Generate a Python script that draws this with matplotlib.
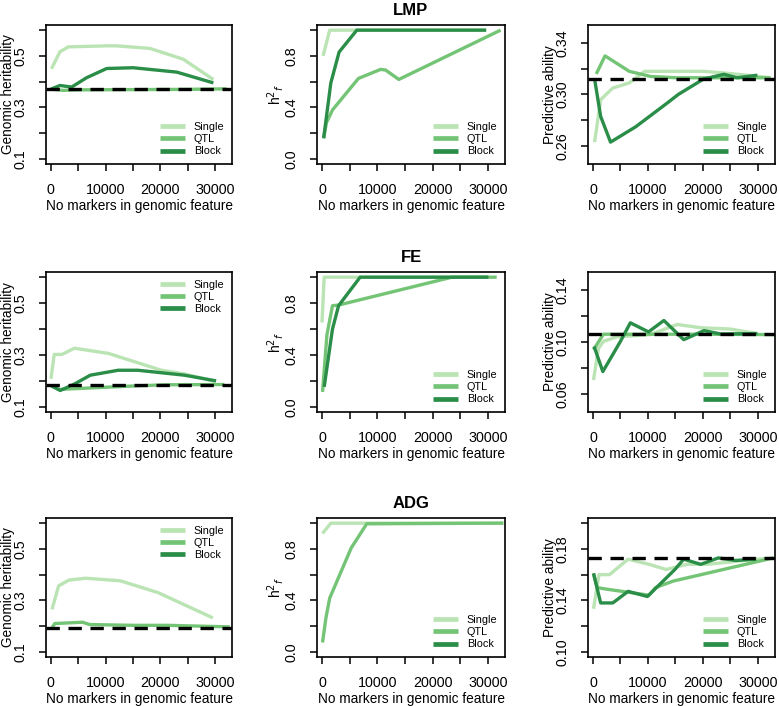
"""Genomic feature BLUP panels: h2, h2_f and predictive ability vs number of markers
for LMP, FE and ADG (Single / QTL / Block feature classes)."""

import numpy as np
import matplotlib.pyplot as plt

plt.switch_backend("Agg")
plt.rcParams["font.family"] = ["Liberation Sans", "DejaVu Sans"]

traits = ["LMP", "FE", "ADG"]
classes = ["Single", "QTL", "Block"]
colors = {"Single": "#bae4b3", "QTL": "#74c476", "Block": "#2a8d48"}

# ---- LMP ----
lmp_h2 = {
    "Single": ([100, 1650, 3170, 10200, 12000, 18100, 24200, 29700],
               [0.450, 0.516, 0.535, 0.539, 0.539, 0.529, 0.487, 0.408]),
    "QTL": ([0, 2200, 5000, 15000, 25000, 32100],
            [0.371, 0.366, 0.368, 0.369, 0.370, 0.372]),
    "Block": ([0, 1650, 3800, 6500, 10200, 15000, 23000, 29700],
              [0.371, 0.385, 0.379, 0.415, 0.451, 0.454, 0.437, 0.395]),
}
lmp_hf = {
    "Single": ([200, 1400, 6300, 29700], [0.80, 1.0, 1.0, 1.0]),
    "QTL": ([300, 800, 1900, 6600, 10600, 11500, 13900, 32300],
            [0.16, 0.28, 0.38, 0.625, 0.695, 0.69, 0.617, 1.0]),
    "Block": ([300, 1600, 3100, 6300, 29700], [0.16, 0.59, 0.83, 1.0, 1.0]),
}
lmp_pa = {
    "Single": ([300, 1400, 3600, 6600, 9400, 10900, 15800, 20100, 23100, 29300, 32300],
               [0.263, 0.296, 0.305, 0.309, 0.318, 0.318, 0.318, 0.318, 0.317, 0.3145, 0.313]),
    "QTL": ([600, 2200, 6600, 10500, 15200, 24000, 32300],
            [0.316, 0.330, 0.318, 0.314, 0.313, 0.313, 0.313]),
    "Block": ([300, 1400, 3200, 7800, 13700, 15500, 20100, 23800, 26200, 29900],
              [0.312, 0.283, 0.263, 0.275, 0.294, 0.300, 0.312, 0.3157, 0.313, 0.315]),
}

# ---- FE ----
fe_h2 = {
    "Single": ([0, 600, 2000, 4300, 10500, 20200, 24400, 30000],
               [0.208, 0.302, 0.302, 0.326, 0.306, 0.241, 0.227, 0.198]),
    "QTL": ([0, 1400, 4400, 14700, 20800, 31700],
            [0.182, 0.167, 0.170, 0.180, 0.185, 0.186]),
    "Block": ([0, 1700, 4400, 7200, 12300, 15900, 24400, 30200],
              [0.182, 0.163, 0.189, 0.222, 0.241, 0.241, 0.222, 0.200]),
}
fe_hf = {
    "Single": ([0, 400, 30100], [0.65, 1.0, 1.0]),
    "QTL": ([100, 900, 1900, 3000, 23500, 31600], [0.115, 0.557, 0.78, 0.785, 1.0, 1.0]),
    "Block": ([400, 1900, 3000, 6900, 30100], [0.154, 0.60, 0.78, 1.0, 1.0]),
}
fe_pa = {
    "Single": ([100, 1000, 1900, 4400, 10400, 15300, 19600, 25000, 29900],
               [0.0707, 0.095, 0.1005, 0.104, 0.1057, 0.1135, 0.111, 0.110, 0.1065]),
    "QTL": ([100, 1900, 8000, 20000, 32900], [0.094, 0.106, 0.106, 0.106, 0.1057]),
    "Block": ([200, 1800, 5000, 6800, 10100, 12900, 16500, 20200, 23200, 29900],
              [0.0966, 0.0772, 0.1005, 0.1148, 0.1078, 0.1166, 0.1018, 0.1088, 0.1062, 0.1065]),
}

# ---- ADG ---- (no Block curves drawn in the source)
adg_h2 = {
    "Single": ([200, 1400, 3300, 6400, 12700, 19600, 29600],
               [0.265, 0.356, 0.379, 0.386, 0.376, 0.330, 0.232]),
    "QTL": ([200, 700, 5800, 7100, 15200, 21400, 32700],
            [0.193, 0.210, 0.215, 0.206, 0.203, 0.203, 0.197]),
    "Block": ([], []),
}
adg_hf = {
    "Single": ([100, 1600, 32800], [0.92, 1.0, 1.0]),
    "QTL": ([100, 700, 1400, 5300, 8100, 32800], [0.073, 0.26, 0.418, 0.808, 0.995, 1.0]),
    "Block": ([], []),
}
adg_pa = {
    "Single": ([100, 1100, 3000, 6400, 10200, 13300, 17100, 20900, 29700, 32800],
               [0.1335, 0.160, 0.160, 0.172, 0.168, 0.164, 0.168, 0.168, 0.172, 0.173]),
    "QTL": ([100, 750, 2000, 10200, 11400, 14600, 32800],
            [0.161, 0.150, 0.149, 0.144, 0.150, 0.155, 0.173]),
    "Block": ([100, 1400, 3600, 6400, 9900, 14900, 16500, 19600, 22800, 25900, 29700],
              [0.161, 0.138, 0.138, 0.147, 0.143, 0.164, 0.172, 0.168, 0.173, 0.171, 0.172]),
}

h2_base = [0.371, 0.186, 0.194]   # dashed reference (GBLUP)
pa_base = [0.3118, 0.1065, 0.173]

pa_ylim = [(0.25, 0.35), (0.05, 0.15), (0.10, 0.20)]
pa_ticks = [np.arange(0.26, 0.345, 0.02), np.arange(0.06, 0.145, 0.02), np.arange(0.10, 0.205, 0.02)]
pa_labels = [[0.26, 0.30, 0.34], [0.06, 0.10, 0.14], [0.10, 0.14, 0.18]]

data = [[lmp_h2, lmp_hf, lmp_pa], [fe_h2, fe_hf, fe_pa], [adg_h2, adg_hf, adg_pa]]

W, H = 779, 706
fig = plt.figure(figsize=(W / 100, H / 100), dpi=100)

cols_px = [(46, 232), (317, 505), (588, 775)]
rows_px = [(25, 164), (272, 412), (518, 657)]


def rlim(lo, hi):
    d = (hi - lo) * 0.04
    return lo - d, hi + d


for r in range(3):
    for c in range(3):
        l, rr = cols_px[c]
        t, b = rows_px[r]
        ax = fig.add_axes([l / W, 1 - b / H, (rr - l) / W, (b - t) / H])
        series = data[r][c]
        handles = []
        for k in classes:
            xs, ys = series[k]
            (ln,) = ax.plot(xs, ys, color=colors[k], lw=2.4, solid_capstyle="butt",
                            solid_joinstyle="round", label=k)
            handles.append(ln)
        ax.set_xlim(-900, 33100)
        ax.set_xticks(np.arange(0, 30001, 5000))
        ax.set_xticklabels(["0", "", "10000", "", "20000", "", "30000"])
        if c == 0:
            ax.set_ylim(*rlim(0.1, 0.6))
            ax.set_yticks(np.arange(0.1, 0.61, 0.1))
            ax.set_yticklabels(["0.1", "", "0.3", "", "0.5", ""])
            ax.axhline(h2_base[r], color="black", lw=2.4, dashes=(4, 2.6))
            ax.set_ylabel("Genomic heritability", fontsize=9.8, labelpad=-1)
        elif c == 1:
            ax.set_ylim(*rlim(0.0, 1.0))
            ax.set_yticks(np.arange(0, 1.01, 0.2))
            ax.set_yticklabels(["0.0", "", "0.4", "", "0.8", ""])
            ax.set_ylabel(r"h$^2$$_f$", fontsize=10, labelpad=-1)
            ax.set_title(traits[r], fontsize=12, fontweight="bold", pad=7)
        else:
            ax.set_ylim(*rlim(*pa_ylim[r]))
            ax.set_yticks(pa_ticks[r])
            ax.set_yticklabels([f"{v:.2f}" if any(abs(v - q) < 1e-6 for q in pa_labels[r]) else ""
                                for v in pa_ticks[r]])
            ax.axhline(pa_base[r], color="black", lw=2.4, dashes=(4, 2.6))
            ax.set_ylabel("Predictive ability", fontsize=9.8, labelpad=-1)
        ax.set_xlabel("No markers in genomic feature", fontsize=9.8, labelpad=1.5)
        ax.tick_params(direction="out", length=5, width=1.1, labelsize=10.3, pad=8.5)
        for lab in ax.get_yticklabels():
            lab.set_rotation(90)
            lab.set_va("center")
        for s in ax.spines.values():
            s.set_linewidth(1.2)
        loc = "upper right" if (c == 0 and r > 0) else "lower right"
        leg = ax.legend(handles=handles, loc=loc, frameon=False, fontsize=7.8,
                        handlelength=2.3, handletextpad=0.8, labelspacing=0.2,
                        borderaxespad=0.3)
        for lh in leg.get_lines():
            lh.set_linewidth(3.4)

fig.savefig("out.png", dpi=100)
